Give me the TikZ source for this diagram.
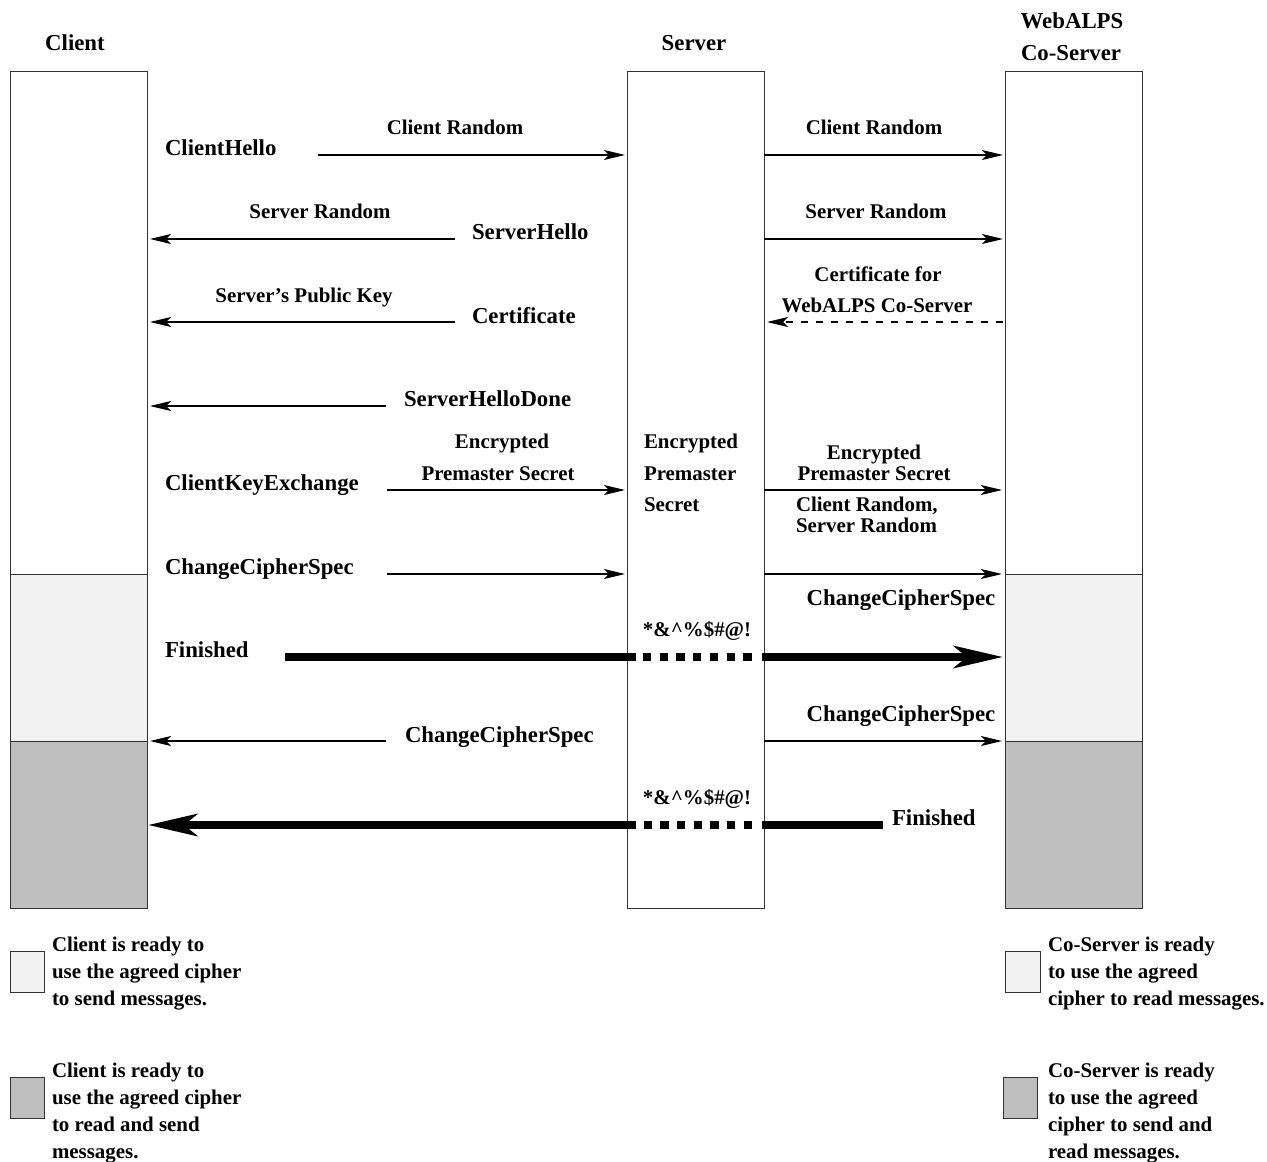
\documentclass[tikz,border=0pt]{standalone}
\usepackage{fontspec}
\setmainfont{Liberation Serif}
\usetikzlibrary{arrows.meta}
\definecolor{lightfill}{HTML}{F2F2F2}
\definecolor{darkfill}{HTML}{BFBFBF}
\definecolor{edge}{HTML}{333333}
\begin{document}
\begin{tikzpicture}[x=1pt,y=-1pt,
  lbl/.style={font=\fontsize{22.8}{27}\selectfont\bfseries, inner sep=0pt, outer sep=0pt},
  sml/.style={font=\fontsize{20.9}{25}\selectfont\bfseries, inner sep=0pt, outer sep=0pt},
  lw/.style={lbl, anchor=base west},
  lc/.style={lbl, anchor=base},
  sw/.style={sml, anchor=base west},
  sc/.style={sml, anchor=base},
  lane/.style={draw=edge, line width=1pt, minimum width=137pt, minimum height=837pt, anchor=north west, inner sep=0pt, outer sep=0pt},
  shade/.style={draw=edge, line width=1pt},
  msg/.style={line width=1.2pt, -{Stealth[length=21pt,width=10pt,inset=5pt]}},
  dmsg/.style={msg, dash pattern=on 7pt off 8pt},
  bold/.style={line width=8pt},
  boldtip/.style={bold, -{Stealth[length=49pt,width=22pt,inset=13pt]}},
  dots/.style={line width=8pt, dash pattern=on 8.3pt off 8.4pt}
]
\useasboundingbox (0,0) rectangle (1267,1162);

% shaded phases
\filldraw[shade, fill=lightfill] (10,574) rectangle (147,741);
\filldraw[shade, fill=darkfill] (10,741) rectangle (147,908);
\filldraw[shade, fill=lightfill] (1005,574) rectangle (1142,741);
\filldraw[shade, fill=darkfill] (1005,741) rectangle (1142,908);

% lanes
\node[lane] (client) at (10,71) {};
\node[lane] (server) at (627,71) {};
\node[lane] (coserver) at (1005,71) {};

% headers
\node[lc] (hclient) at (75,50) {Client};
\node[lc] (hserver) at (694,50) {Server};
\node[lc] (hco1) at (1072,28) {WebALPS};
\node[lc] (hco2) at (1071,60) {Co-Server};

% row coordinates
\coordinate (r1) at (0,155);
\coordinate (r2) at (0,239);
\coordinate (r3) at (0,322);
\coordinate (r4) at (0,406);
\coordinate (r5) at (0,490);
\coordinate (r6) at (0,574);
\coordinate (r7) at (0,657);
\coordinate (r8) at (0,741);
\coordinate (r9) at (0,825);

% message start points
\coordinate (s1) at (318,155);
\coordinate (s2) at (455,239);
\coordinate (s3) at (455,322);
\coordinate (s4) at (386,406);
\coordinate (s5) at (387,490);
\coordinate (s6) at (387,574);
\coordinate (s8) at (386,741);

% ClientHello
\node[lw] (tch) at (165,155) {ClientHello};
\node[sc] (tcr1) at (455,134) {Client Random};
\draw[msg, shorten >=2pt] (s1) -- (s1 -| server.west);
\node[sc] (tcr2) at (874,134) {Client Random};
\draw[msg, shorten >=2pt] (server.east |- r1) -- (coserver.west |- r1);

% ServerHello
\node[lw] (tsh) at (472,239) {ServerHello};
\node[sc] (tsr1) at (320,218) {Server Random};
\draw[msg, shorten >=3pt] (s2) -- (s2 -| client.east);
\node[sc] (tsr2) at (876,218) {Server Random};
\draw[msg, shorten >=2pt] (server.east |- r2) -- (coserver.west |- r2);

% Certificate
\node[lw] (tcert) at (472,323) {Certificate};
\node[sc] (tpk) at (304,302) {Server’s Public Key};
\draw[msg, shorten >=3pt] (s3) -- (s3 -| client.east);
\node[sc] (tcf1) at (878,281) {Certificate for};
\node[sc] (tcf2) at (877,312) {WebALPS Co-Server};
\draw[dmsg, shorten >=3pt, shorten <=2pt] (coserver.west |- r3) -- (server.east |- r3);

% ServerHelloDone
\node[lw] (tshd) at (404,406) {ServerHelloDone};
\draw[msg, shorten >=3pt] (s4) -- (s4 -| client.east);

% ClientKeyExchange
\node[lw] (tcke) at (165,490) {ClientKeyExchange};
\node[sc] (tep1) at (502,448) {Encrypted};
\node[sc] (tep2) at (498,480) {Premaster Secret};
\draw[msg, shorten >=2pt] (s5) -- (s5 -| server.west);
\node[sw] (tse1) at (644,448) {Encrypted};
\node[sw] (tse2) at (644,480) {Premaster};
\node[sw] (tse3) at (644,511) {Secret};
\node[sc] (tep3) at (874,459) {Encrypted};
\node[sc] (tep4) at (874,480) {Premaster Secret};
\draw[msg, shorten >=3pt] (server.east |- r5) -- (coserver.west |- r5);
\node[sw] (tcrsr1) at (796,511) {Client Random,};
\node[sw] (tcrsr2) at (796,532) {Server Random};

% ChangeCipherSpec (client)
\node[lw] (tccs1) at (165,574) {ChangeCipherSpec};
\draw[msg, shorten >=2pt] (s6) -- (s6 -| server.west);
\draw[msg, shorten >=3pt] (server.east |- r6) -- (coserver.west |- r6);
\node[lc] (tccs2) at (901,605) {ChangeCipherSpec};

% Finished (client)
\node[lw] (tfin1) at (165,657) {Finished};
\node[sc] (tgib1) at (697,636) {*\&\textasciicircum\%\$\#@!};
\coordinate (f1) at (285,657);
\draw[bold] (f1) -- (636,657);
\draw[dots] (643,657) -- (753,657);
\draw[boldtip, shorten >=2pt] (762,657) -- (coserver.west |- r7);

% ChangeCipherSpec (server)
\node[lw] (tccs3) at (405,742) {ChangeCipherSpec};
\draw[msg, shorten >=3pt] (s8) -- (s8 -| client.east);
\node[lc] (tccs4) at (901,721) {ChangeCipherSpec};
\draw[msg, shorten >=3pt] (server.east |- r8) -- (coserver.west |- r8);

% Finished (co-server)
\node[lw] (tfin2) at (892,825) {Finished};
\node[sc] (tgib2) at (697,804) {*\&\textasciicircum\%\$\#@!};
\coordinate (f2) at (883,825);
\draw[bold] (f2) -- (762,825);
\draw[dots] (752,825) -- (643,825);
\draw[boldtip, shorten >=1pt] (636,825) -- (client.east |- r9);

% legend
\filldraw[shade, fill=lightfill] (10,951) rectangle (44,992);
\filldraw[shade, fill=darkfill] (10,1077) rectangle (44,1118);
\filldraw[shade, fill=lightfill] (1005,951) rectangle (1040,992);
\filldraw[shade, fill=darkfill] (1003,1077) rectangle (1037,1118);

\node[sw] (la1) at (52,951) {Client is ready to};
\node[sw] (la2) at (52,978) {use the agreed cipher};
\node[sw] (la3) at (52,1005) {to send messages.};
\node[sw] (lb1) at (52,1077) {Client is ready to};
\node[sw] (lb2) at (52,1104) {use the agreed cipher};
\node[sw] (lb3) at (52,1131) {to read and send};
\node[sw] (lb4) at (52,1158) {messages.};

\node[sw] (lc1) at (1048,951) {Co-Server is ready};
\node[sw] (lc2) at (1048,978) {to use the agreed};
\node[sw] (lc3) at (1048,1005) {cipher to read messages.};
\node[sw] (ld1) at (1048,1077) {Co-Server is ready};
\node[sw] (ld2) at (1048,1104) {to use the agreed};
\node[sw] (ld3) at (1048,1131) {cipher to send and};
\node[sw] (ld4) at (1048,1158) {read messages.};
\end{tikzpicture}
\end{document}
